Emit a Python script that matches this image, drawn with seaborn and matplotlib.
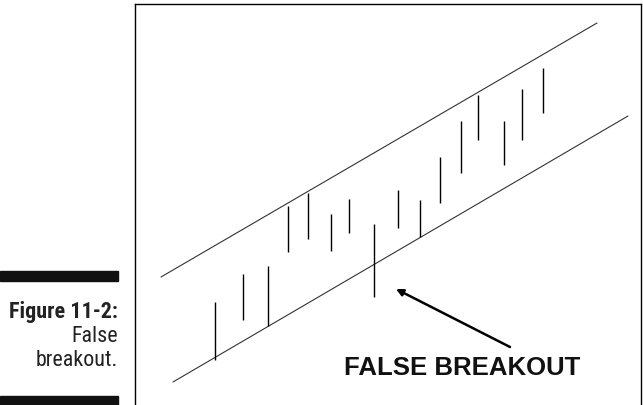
import pandas as pd
import matplotlib
matplotlib.use("Agg")
import matplotlib.pyplot as plt
import seaborn as sns
from matplotlib.patches import Rectangle

# price bars (session position, high, low)
sessao = [79.7, 107.7, 133.3, 152.7, 172.7, 196.3, 214.3, 239.3,
          263.3, 284.7, 305.3, 326.3, 343.3, 368.7, 386.7, 407.7]
maxima = [103, 131, 139, 199, 212, 191, 206, 181,
          215, 205, 248, 284, 310, 284, 316, 337]
minima = [45, 85, 79, 153, 166, 154, 172, 108,
          177, 168, 202, 232, 265, 240, 265, 292]

# channel lines (start / end)
canal_sup_x = [26, 462]
canal_sup_y = [128, 382]
canal_inf_x = [38, 493]
canal_inf_y = [23, 289]

# annotation
seta_ponta = (261, 116)
seta_cauda = (375, 58)
rotulo = "FALSE BREAKOUT"
rotulo_pos = (327, 38)

sns.set_style("white")
plt.rcParams['font.family'] = ['Liberation Sans', 'DejaVu Sans']

fig = plt.figure(figsize=(6.43, 4.06), dpi=100)
ax = fig.add_axes([135/643, 0, 506/643, 401/406])

canais = pd.DataFrame({
    'x': canal_sup_x + canal_inf_x,
    'y': canal_sup_y + canal_inf_y,
    'linha': ['sup', 'sup', 'inf', 'inf'],
})
sns.lineplot(data=canais, x='x', y='y', units='linha', estimator=None,
             color='#333333', linewidth=0.8, ax=ax, legend=False)

ax.vlines(sessao, minima, maxima, color='black', linewidth=1.0)

ax.annotate('', xy=seta_ponta, xytext=seta_cauda,
            arrowprops=dict(arrowstyle='-|>', color='black', lw=1.8,
                            mutation_scale=10, shrinkA=0, shrinkB=0))
ax.text(rotulo_pos[0], rotulo_pos[1], rotulo, ha='center', va='center',
        fontsize=18.5, fontweight='bold', color='#111111')

ax.set_xlim(0, 506)
ax.set_ylim(0, 401)
ax.set_xticks([])
ax.set_yticks([])
ax.set_xlabel('')
ax.set_ylabel('')
for lado in ['left', 'top', 'right']:
    ax.spines[lado].set_visible(True)
    ax.spines[lado].set_color('black')
    ax.spines[lado].set_linewidth(1.0)
ax.spines['bottom'].set_visible(False)

# caption at the left
fig.add_artist(Rectangle((0, 1 - 282/406), 118/643, 10/406,
                         transform=fig.transFigure, color='#111111'))
fig.add_artist(Rectangle((0, 0), 118/643, 9/406,
                         transform=fig.transFigure, color='#111111'))
fam = ['Roboto Condensed', 'Roboto', 'DejaVu Sans']
fig.text(118/643, 1 - 318/406, 'Figure 11-2:', ha='right', va='baseline',
         fontsize=15.8, fontweight='bold', family=fam, color='#222222')
fig.text(118/643, 1 - 342/406, 'False', ha='right', va='baseline',
         fontsize=15.8, family=fam, color='#222222')
fig.text(118/643, 1 - 366.5/406, 'breakout.', ha='right', va='baseline',
         fontsize=15.8, family=fam, color='#222222')

fig.savefig('out.png', dpi=100)
